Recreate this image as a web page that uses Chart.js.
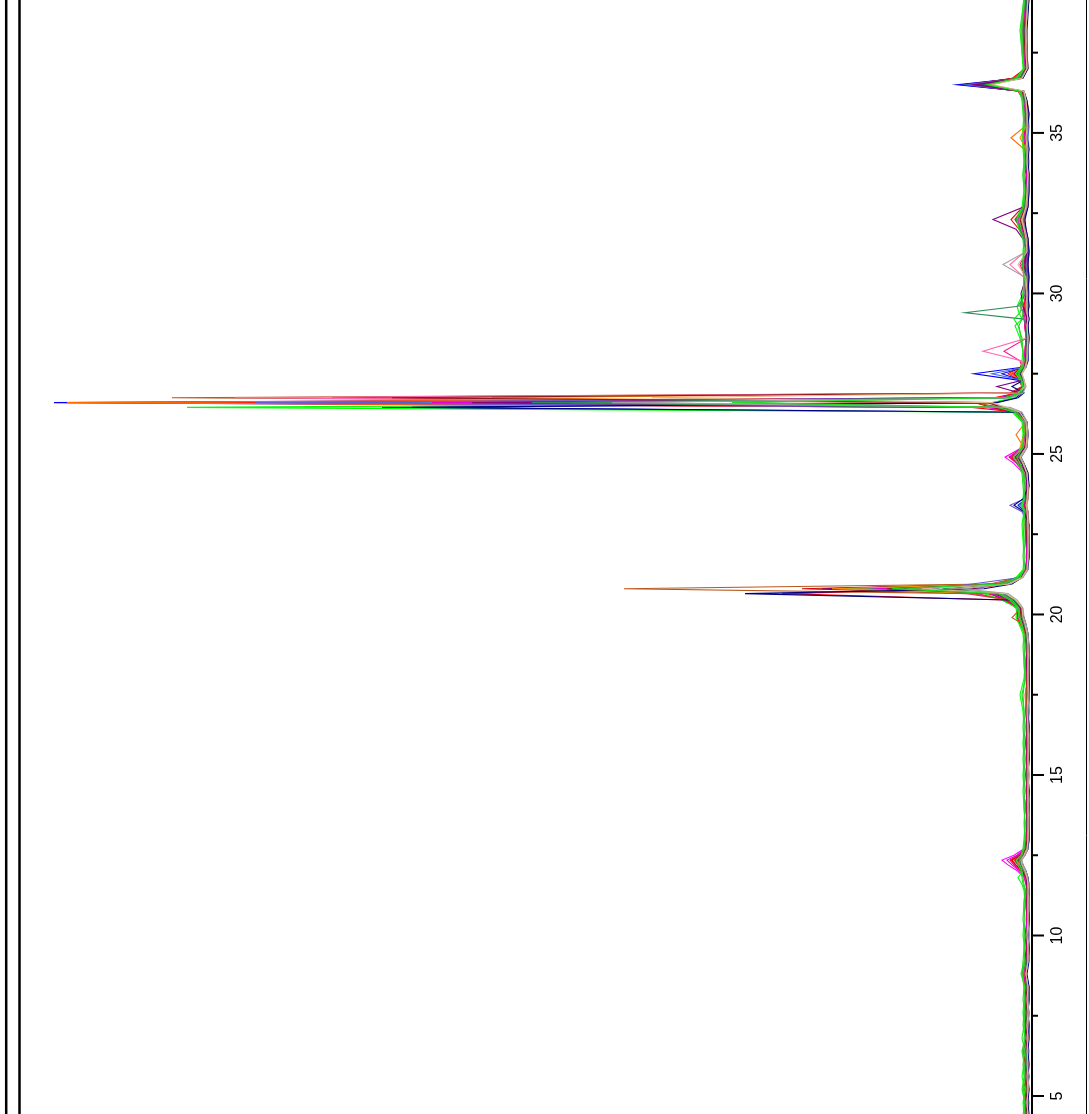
<!DOCTYPE html>
<html>
<head>
<meta charset="utf-8">
<script src="https://cdn.jsdelivr.net/npm/chart.js@4/dist/chart.umd.min.js"></script>
<style>
  html, body { margin: 0; padding: 0; background: #ffffff; }
  #wrap { width: 1089px; height: 1114px; position: relative; }
  canvas { display: block; }
</style>
</head>
<body>
<div id="wrap"><canvas id="tic" width="1089" height="1114"></canvas></div>
<script>
// Retention time grid (min), shared by every run
const retentionTime = [
  4.4, 4.8, 5.2, 5.6, 6.0, 6.4, 6.8, 7.2, 7.6, 8.0,
  8.4, 8.8, 9.2, 9.6, 10.0, 10.5, 11.0, 11.4, 11.6, 11.8,
  12.0, 12.2, 12.35, 12.5, 12.7, 13.0, 13.5, 14.0, 14.5, 15.0,
  15.5, 16.0, 16.5, 17.0, 17.5, 18.0, 18.5, 19.0, 19.4, 19.7,
  19.9, 20.2, 20.45, 20.65, 20.8, 20.95, 21.15, 21.4, 21.8, 22.3,
  22.8, 23.2, 23.4, 23.6, 24.0, 24.4, 24.7, 24.9, 25.2, 25.6,
  26.0, 26.3, 26.45, 26.6, 26.75, 26.9, 27.1, 27.3, 27.5, 27.7,
  27.9, 28.2, 28.6, 29.0, 29.2, 29.4, 29.6, 30.0, 30.5, 30.9,
  31.3, 31.7, 32.0, 32.3, 32.7, 33.2, 33.7, 34.1, 34.5, 34.85,
  35.2, 35.6, 36.0, 36.3, 36.5, 36.7, 37.0, 37.5, 38.2, 39.2
];

// Axis ticks (retention time) and which of them carry a label
const timeTicks = [5, 7.5, 10, 12.5, 15, 17.5, 20, 22.5, 25, 27.5, 30, 32.5, 35, 37.5];
const timeLabels = ['5', '', '10', '', '15', '', '20', '', '25', '', '30', '', '35', ''];

// Total ion intensity per run (arbitrary units), one value per retention time
const runGreen2 = [
  9, 7, 10, 8, 9, 7, 10, 8, 7, 9,
  8, 10, 9, 8, 7, 9, 8, 7, 9, 10,
  11, 14, 16, 11, 9, 8, 7, 8, 9, 8,
  9, 8, 9, 8, 10, 7, 8, 9, 8, 11,
  13, 14, 22, 34, 140, 30, 14, 8, 9, 8,
  9, 8, 11, 8, 9, 10, 14, 19, 10, 8,
  9, 17, 34, 300, 28, 13, 9, 11, 14, 10,
  8, 9, 10, 14, 18, 12, 10, 9, 8, 9,
  8, 9, 13, 15, 9, 8, 9, 8, 8, 9,
  8, 9, 10, 12, 44, 15, 8, 10, 12, 8
];
const runTan = [
  4, 5, 4, 5, 4, 5, 4, 5, 4, 5,
  4, 6, 4, 4, 5, 4, 4, 4, 4, 5,
  7, 10, 11, 8, 5, 4, 4, 4, 4, 4,
  4, 4, 4, 5, 4, 4, 4, 4, 5, 7,
  9, 10, 16, 26, 110, 24, 10, 5, 4, 4,
  4, 5, 6, 5, 4, 5, 9, 12, 6, 5,
  6, 12, 25, 40, 380, 14, 7, 8, 10, 7,
  5, 5, 4, 5, 4, 5, 5, 5, 6, 14,
  5, 6, 8, 10, 6, 5, 4, 5, 5, 6,
  5, 5, 6, 8, 40, 10, 5, 6, 6, 4
];
const runGray = [
  4, 5, 4, 3, 5, 4, 5, 4, 3, 4,
  4, 6, 4, 4, 3, 4, 4, 3, 4, 4,
  6, 9, 10, 7, 4, 4, 3, 4, 4, 3,
  4, 3, 4, 4, 3, 4, 4, 3, 4, 6,
  8, 9, 15, 24, 70, 22, 9, 4, 4, 3,
  4, 4, 5, 4, 4, 5, 8, 11, 5, 4,
  5, 10, 22, 420, 22, 9, 6, 8, 10, 6,
  5, 4, 4, 5, 4, 5, 6, 5, 7, 29,
  6, 5, 7, 10, 5, 4, 4, 5, 4, 5,
  4, 5, 6, 8, 42, 10, 5, 5, 6, 4
];
const runSeaGreen = [
  5, 4, 5, 4, 6, 5, 4, 5, 5, 4,
  5, 6, 5, 4, 5, 4, 4, 5, 4, 5,
  8, 11, 12, 8, 5, 4, 5, 4, 4, 5,
  4, 4, 5, 4, 5, 4, 4, 5, 5, 8,
  10, 10, 18, 28, 90, 26, 10, 5, 4, 4,
  5, 4, 6, 5, 4, 5, 9, 13, 6, 5,
  6, 12, 26, 500, 24, 10, 7, 9, 11, 7,
  6, 5, 5, 6, 8, 67, 14, 6, 5, 10,
  6, 8, 12, 16, 7, 5, 4, 6, 5, 6,
  5, 6, 7, 9, 47, 12, 5, 6, 7, 5
];
const runLimeGreen = [
  7, 8, 9, 7, 8, 10, 7, 9, 8, 7,
  8, 9, 7, 8, 8, 7, 8, 7, 8, 9,
  10, 12, 13, 10, 8, 7, 7, 8, 7, 8,
  7, 8, 7, 8, 9, 7, 8, 7, 8, 10,
  12, 13, 20, 32, 125, 28, 12, 8, 7, 8,
  8, 7, 9, 8, 7, 8, 12, 15, 9, 8,
  8, 15, 28, 460, 24, 11, 9, 10, 13, 9,
  8, 9, 11, 13, 10, 9, 12, 8, 8, 9,
  8, 8, 11, 13, 8, 7, 8, 7, 8, 9,
  8, 8, 9, 11, 42, 13, 8, 9, 10, 7
];
const runPurple = [
  4, 5, 4, 5, 4, 6, 4, 5, 4, 5,
  4, 6, 5, 4, 5, 4, 5, 4, 5, 5,
  7, 11, 14, 9, 5, 4, 4, 5, 4, 4,
  4, 5, 4, 5, 4, 4, 5, 4, 5, 8,
  10, 11, 19, 34, 130, 30, 11, 5, 4, 5,
  4, 5, 7, 5, 5, 6, 10, 15, 7, 5,
  6, 13, 32, 560, 30, 12, 35, 9, 13, 8,
  6, 5, 5, 6, 5, 7, 9, 11, 6, 7,
  5, 9, 16, 39, 8, 5, 4, 5, 5, 6,
  5, 5, 6, 9, 58, 12, 5, 6, 7, 5
];
const runDarkRed = [
  5, 6, 5, 6, 5, 6, 5, 6, 5, 6,
  5, 7, 5, 5, 5, 4, 5, 5, 5, 6,
  9, 14, 17, 11, 6, 5, 5, 5, 5, 5,
  5, 5, 5, 5, 5, 5, 5, 5, 6, 9,
  11, 12, 21, 36, 145, 28, 11, 5, 4, 5,
  5, 5, 7, 5, 5, 6, 12, 17, 7, 6,
  6, 13, 30, 45, 640, 18, 9, 10, 14, 8,
  6, 5, 5, 6, 5, 6, 6, 5, 6, 8,
  5, 6, 9, 12, 6, 5, 4, 5, 5, 7,
  5, 6, 7, 10, 56, 13, 6, 7, 8, 5
];
const runNavy = [
  3, 4, 3, 4, 3, 4, 3, 3, 4, 3,
  3, 5, 3, 3, 4, 3, 3, 3, 4, 4,
  6, 9, 11, 7, 4, 3, 3, 3, 3, 4,
  3, 3, 3, 4, 3, 3, 3, 3, 4, 6,
  8, 11, 22, 287, 48, 20, 10, 4, 3, 3,
  3, 8, 18, 9, 3, 4, 8, 11, 5, 4,
  5, 11, 620, 35, 14, 8, 20, 8, 12, 6,
  4, 4, 3, 4, 3, 4, 3, 4, 3, 4,
  3, 4, 6, 7, 4, 3, 3, 4, 3, 5,
  4, 3, 5, 8, 48, 9, 4, 5, 5, 3
];
const runSlateBlue = [
  4, 5, 3, 5, 4, 5, 3, 4, 5, 4,
  3, 6, 4, 3, 4, 3, 4, 3, 4, 5,
  7, 10, 13, 8, 5, 4, 3, 4, 3, 4,
  3, 4, 3, 4, 3, 4, 3, 4, 5, 7,
  9, 10, 18, 30, 100, 60, 12, 5, 3, 4,
  4, 10, 22, 8, 4, 5, 9, 13, 6, 5,
  6, 12, 28, 777, 26, 10, 7, 9, 14, 7,
  5, 4, 5, 4, 5, 4, 5, 4, 5, 6,
  4, 5, 7, 9, 5, 4, 3, 4, 5, 6,
  5, 4, 6, 9, 52, 11, 5, 6, 7, 4
];
const runPink = [
  5, 6, 4, 6, 5, 7, 5, 6, 4, 6,
  5, 7, 5, 4, 5, 4, 5, 4, 5, 6,
  8, 13, 16, 10, 6, 5, 4, 5, 4, 5,
  4, 5, 4, 5, 4, 5, 4, 5, 6, 9,
  11, 12, 20, 36, 120, 28, 11, 5, 4, 5,
  4, 5, 7, 5, 6, 7, 12, 18, 8, 6,
  7, 13, 30, 40, 797, 18, 9, 10, 12, 9,
  10, 49, 6, 5, 6, 7, 6, 5, 8, 22,
  7, 6, 9, 11, 6, 5, 4, 5, 6, 7,
  5, 6, 7, 10, 45, 12, 6, 7, 8, 5
];
const runDarkOrange = [
  5, 4, 6, 5, 4, 6, 5, 4, 5, 4,
  5, 7, 5, 4, 5, 4, 4, 5, 4, 5,
  8, 12, 15, 9, 5, 4, 4, 5, 4, 4,
  4, 5, 4, 5, 6, 4, 4, 5, 5, 8,
  10, 11, 18, 30, 200, 26, 10, 5, 4, 4,
  5, 4, 6, 5, 4, 5, 9, 13, 12, 8,
  6, 12, 28, 42, 540, 14, 7, 9, 12, 8,
  6, 5, 5, 4, 5, 5, 6, 5, 5, 6,
  5, 5, 8, 10, 5, 4, 4, 5, 6, 12,
  6, 5, 6, 9, 54, 12, 5, 6, 7, 4
];
const runSienna = [
  4, 3, 5, 4, 3, 5, 4, 3, 4, 3,
  4, 6, 4, 3, 4, 3, 4, 3, 3, 4,
  7, 10, 12, 8, 4, 3, 4, 3, 4, 3,
  4, 3, 4, 3, 5, 3, 4, 3, 7, 9,
  20, 11, 24, 60, 408, 42, 13, 5, 3, 4,
  3, 4, 6, 4, 3, 4, 8, 12, 6, 4,
  5, 12, 30, 60, 860, 20, 8, 9, 15, 7,
  5, 4, 3, 4, 3, 4, 3, 4, 3, 4,
  3, 4, 6, 8, 4, 3, 4, 3, 4, 6,
  4, 3, 5, 8, 50, 10, 4, 5, 6, 3
];
const runGreen = [
  8, 9, 7, 10, 8, 9, 7, 8, 9, 8,
  7, 11, 8, 7, 9, 8, 7, 8, 10, 14,
  9, 10, 12, 9, 8, 7, 8, 7, 8, 9,
  8, 9, 8, 9, 12, 8, 7, 8, 9, 13,
  16, 15, 30, 48, 193, 35, 16, 9, 8, 9,
  10, 8, 10, 9, 8, 9, 12, 16, 11, 9,
  10, 20, 845, 40, 18, 12, 10, 12, 16, 11,
  10, 9, 12, 17, 10, 13, 15, 9, 8, 9,
  9, 8, 12, 16, 10, 8, 9, 8, 9, 10,
  9, 8, 9, 13, 50, 16, 9, 10, 11, 8
];
const runOrchid = [
  6, 7, 5, 7, 6, 7, 5, 6, 7, 6,
  6, 8, 6, 5, 6, 5, 5, 6, 5, 7,
  12, 20, 25, 15, 7, 6, 5, 6, 5, 6,
  5, 6, 5, 6, 5, 5, 6, 5, 6, 10,
  12, 14, 24, 42, 160, 30, 13, 6, 5, 6,
  6, 5, 7, 6, 6, 8, 15, 22, 9, 7,
  8, 16, 36, 600, 30, 12, 9, 11, 16, 9,
  8, 7, 6, 7, 6, 8, 12, 7, 7, 9,
  6, 7, 11, 15, 7, 6, 5, 6, 6, 8,
  6, 7, 8, 11, 52, 14, 7, 8, 9, 6
];
const runRoyalBlue = [
  3, 4, 5, 3, 4, 3, 5, 3, 4, 3,
  3, 6, 4, 3, 3, 3, 4, 3, 3, 4,
  6, 10, 12, 8, 4, 3, 3, 4, 3, 4,
  3, 3, 4, 3, 3, 3, 3, 4, 4, 7,
  9, 10, 20, 34, 165, 28, 11, 5, 3, 3,
  4, 6, 12, 6, 3, 5, 9, 12, 6, 4,
  5, 12, 30, 690, 26, 10, 8, 10, 40, 7,
  4, 4, 3, 4, 3, 4, 4, 3, 4, 4,
  3, 4, 6, 8, 4, 3, 3, 5, 3, 4,
  3, 4, 5, 9, 66, 12, 5, 5, 6, 3
];
const runRed3 = [
  7, 6, 8, 6, 7, 8, 6, 7, 6, 7,
  6, 8, 7, 6, 6, 5, 6, 6, 5, 6,
  10, 16, 20, 12, 7, 6, 5, 6, 5, 6,
  5, 6, 5, 6, 5, 6, 6, 5, 6, 10,
  13, 13, 25, 44, 230, 34, 13, 6, 5, 5,
  6, 5, 7, 6, 6, 7, 13, 20, 8, 7,
  7, 15, 40, 58, 700, 22, 10, 11, 18, 10,
  7, 6, 6, 7, 6, 7, 7, 6, 8, 10,
  6, 7, 11, 17, 8, 6, 5, 6, 7, 8,
  6, 7, 8, 12, 65, 18, 7, 8, 9, 6
];
const runDeepPink = [
  6, 5, 7, 6, 5, 8, 6, 5, 7, 6,
  5, 9, 6, 5, 6, 5, 5, 6, 5, 6,
  10, 17, 21, 13, 7, 5, 5, 6, 5, 5,
  5, 6, 5, 5, 6, 5, 5, 6, 6, 9,
  12, 13, 24, 65, 175, 32, 12, 6, 5, 5,
  6, 5, 7, 6, 5, 7, 14, 21, 8, 6,
  7, 14, 38, 740, 32, 13, 9, 12, 18, 10,
  12, 28, 6, 6, 7, 8, 9, 6, 7, 12,
  6, 7, 10, 13, 7, 5, 5, 6, 6, 7,
  6, 7, 7, 11, 62, 16, 7, 8, 9, 6
];
const runMediumBlue = [
  5, 4, 6, 5, 4, 5, 6, 4, 5, 5,
  4, 7, 5, 4, 5, 4, 4, 5, 4, 5,
  8, 12, 14, 9, 5, 4, 4, 5, 4, 5,
  4, 5, 4, 4, 5, 4, 5, 4, 5, 8,
  11, 12, 22, 38, 210, 32, 12, 5, 4, 4,
  5, 7, 14, 6, 5, 6, 10, 14, 7, 5,
  6, 14, 650, 38, 16, 10, 8, 11, 30, 8,
  6, 5, 5, 4, 5, 5, 6, 5, 5, 6,
  5, 6, 8, 11, 6, 5, 4, 7, 5, 6,
  5, 6, 7, 11, 70, 14, 6, 7, 7, 5
];
const runOrange = [
  6, 5, 4, 7, 5, 6, 4, 5, 6, 4,
  5, 8, 6, 4, 5, 4, 5, 4, 5, 6,
  9, 14, 18, 11, 6, 5, 4, 4, 5, 4,
  5, 4, 5, 6, 7, 4, 5, 4, 6, 9,
  12, 14, 22, 40, 150, 30, 12, 5, 4, 5,
  5, 4, 6, 5, 4, 5, 9, 16, 8, 16,
  6, 14, 35, 965, 28, 10, 8, 10, 22, 9,
  7, 6, 5, 4, 6, 5, 5, 4, 5, 6,
  5, 4, 7, 9, 6, 5, 4, 5, 8, 21,
  7, 5, 6, 9, 60, 12, 5, 6, 7, 5
];
const runRed = [
  6, 8, 5, 7, 6, 9, 5, 7, 8, 6,
  7, 9, 6, 5, 7, 5, 6, 5, 6, 7,
  11, 18, 22, 14, 7, 5, 6, 4, 6, 5,
  6, 5, 6, 5, 6, 5, 5, 6, 7, 12,
  15, 14, 28, 250, 60, 24, 12, 6, 5, 6,
  7, 5, 8, 6, 5, 8, 15, 23, 9, 8,
  8, 15, 60, 853, 38, 15, 10, 13, 24, 12,
  8, 7, 6, 7, 6, 7, 8, 6, 7, 9,
  6, 8, 13, 21, 9, 6, 7, 5, 7, 9,
  6, 7, 8, 14, 60, 20, 7, 8, 9, 6
];
const runMagenta = [
  7, 6, 8, 5, 7, 6, 8, 5, 6, 7,
  6, 10, 7, 5, 6, 5, 6, 5, 6, 8,
  14, 24, 30, 18, 8, 6, 5, 6, 5, 6,
  5, 6, 5, 6, 6, 5, 6, 5, 7, 11,
  14, 16, 26, 55, 200, 36, 15, 7, 5, 6,
  5, 6, 8, 6, 7, 9, 18, 27, 10, 7,
  9, 18, 45, 900, 34, 14, 10, 12, 20, 11,
  8, 7, 6, 7, 8, 9, 11, 8, 7, 8,
  6, 7, 10, 14, 8, 6, 5, 7, 6, 8,
  7, 8, 9, 12, 55, 15, 8, 9, 10, 7
];
const runBlue = [
  5, 4, 6, 3, 5, 4, 6, 4, 3, 5,
  4, 7, 5, 3, 4, 3, 4, 3, 4, 5,
  8, 12, 15, 10, 5, 4, 3, 5, 3, 6,
  3, 4, 3, 4, 3, 3, 4, 3, 5, 8,
  10, 12, 30, 40, 180, 35, 14, 6, 4, 3,
  4, 6, 9, 5, 4, 6, 10, 14, 7, 5,
  8, 16, 42, 978, 30, 12, 9, 14, 58, 10,
  6, 5, 4, 5, 4, 5, 4, 6, 4, 5,
  4, 5, 8, 10, 5, 4, 3, 6, 4, 5,
  4, 5, 6, 10, 75, 14, 6, 5, 6, 4
];

// Drawing order: later runs end up on top
const runs = [
  { name: 'R22', color: '#22dd22', values: runGreen2 },
  { name: 'R21', color: '#deb887', values: runTan },
  { name: 'R20', color: '#a0a0a0', values: runGray },
  { name: 'R19', color: '#2e8b57', values: runSeaGreen },
  { name: 'R18', color: '#32cd32', values: runLimeGreen },
  { name: 'R17', color: '#800080', values: runPurple },
  { name: 'R16', color: '#8b1a1a', values: runDarkRed },
  { name: 'R15', color: '#000080', values: runNavy },
  { name: 'R14', color: '#6a5acd', values: runSlateBlue },
  { name: 'R13', color: '#ff69b4', values: runPink },
  { name: 'R12', color: '#ff8c00', values: runDarkOrange },
  { name: 'R11', color: '#b8561b', values: runSienna },
  { name: 'R10', color: '#00ff00', values: runGreen },
  { name: 'R09', color: '#e000e0', values: runOrchid },
  { name: 'R08', color: '#4169e1', values: runRoyalBlue },
  { name: 'R07', color: '#cd0000', values: runRed3 },
  { name: 'R06', color: '#ff1493', values: runDeepPink },
  { name: 'R05', color: '#1010e0', values: runMediumBlue },
  { name: 'R04', color: '#ff6a00', values: runOrange },
  { name: 'R03', color: '#ff0000', values: runRed },
  { name: 'R02', color: '#ff00ff', values: runMagenta },
  { name: 'R01', color: '#0000ff', values: runBlue }
];

const datasets = runs.map(r => ({
  label: r.name,
  data: r.values.map((v, i) => ({ x: v, y: retentionTime[i] })),
  borderColor: r.color,
  backgroundColor: r.color,
  borderWidth: 1.1,
  pointRadius: 0,
  showLine: true,
  tension: 0,
  fill: false
}));

// Tick marks, rotated tick labels and frame lines around the plot
const framePlugin = {
  id: 'frame',
  afterDraw(chart) {
    const ctx = chart.ctx;
    const ys = chart.scales.y;
    const axisX = chart.chartArea.right;
    ctx.save();
    ctx.strokeStyle = '#000000';
    ctx.fillStyle = '#000000';
    ctx.lineWidth = 2;
    ctx.font = '16px "Liberation Sans", Arial, sans-serif';
    ctx.textAlign = 'center';
    ctx.textBaseline = 'alphabetic';
    timeTicks.forEach((t, i) => {
      const py = ys.getPixelForValue(t);
      const len = timeLabels[i] ? 11 : 5;
      ctx.beginPath();
      ctx.moveTo(axisX, py);
      ctx.lineTo(axisX + 1 + len, py);
      ctx.stroke();
      if (timeLabels[i]) {
        ctx.save();
        ctx.translate(axisX + 30, py);
        ctx.rotate(-Math.PI / 2);
        ctx.fillText(timeLabels[i], 0, 0);
        ctx.restore();
      }
    });
    const h = chart.height;
    ctx.lineWidth = 2.5;
    [6.2, 19.5].forEach(x => {
      ctx.beginPath();
      ctx.moveTo(x, 0);
      ctx.lineTo(x, h);
      ctx.stroke();
    });
    ctx.lineWidth = 1;
    ctx.beginPath();
    ctx.moveTo(1086.5, 0);
    ctx.lineTo(1086.5, h);
    ctx.stroke();
    ctx.restore();
  }
};

new Chart(document.getElementById('tic'), {
  type: 'scatter',
  data: { datasets },
  options: {
    responsive: false,
    animation: false,
    devicePixelRatio: 1,
    layout: { padding: 0 },
    plugins: { legend: { display: false }, tooltip: { enabled: false } },
    scales: {
      x: {
        type: 'linear',
        reverse: true,
        min: 0,
        max: 1032,
        display: false
      },
      y: {
        type: 'linear',
        position: 'right',
        min: 4.44,
        max: 39.14,
        afterBuildTicks: s => { s.ticks = timeTicks.map(v => ({ value: v })); },
        afterFit: s => { s.width = 57; },
        ticks: { display: false },
        grid: { display: false, drawTicks: false },
        border: { display: true, color: '#000000', width: 2 }
      }
    }
  },
  plugins: [framePlugin]
});
</script>
</body>
</html>
